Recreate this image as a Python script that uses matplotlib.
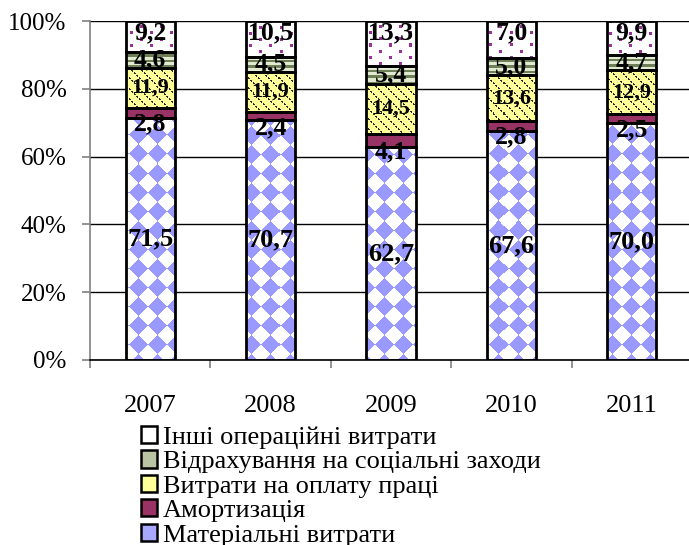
import numpy as np
import matplotlib
matplotlib.use("Agg")
import matplotlib.pyplot as plt
from matplotlib.patches import Patch

plt.rcParams['font.family'] = ['Liberation Serif', 'DejaVu Serif']

years = ['2007', '2008', '2009', '2010', '2011']
material = [71.5, 70.7, 62.7, 67.6, 70.0]
amort = [2.8, 2.4, 4.1, 2.8, 2.5]
wages = [11.9, 11.9, 14.5, 13.6, 12.9]
social = [4.6, 4.5, 5.4, 5.0, 4.7]
other = [9.2, 10.5, 13.3, 11.0, 9.9]
other_labels = ['9,2', '10,5', '13,3', '7,0', '9,9']

names = ['Матеріальні витрати', 'Амортизація', 'Витрати на оплату праці',
         'Відрахування на соціальні заходи', 'Інші операційні витрати']

W, H = 689, 545
fig = plt.figure(figsize=(W / 100, H / 100), dpi=100)
ax_l, ax_r, ax_t, ax_b = 90, 692, 21, 360
ax = fig.add_axes([ax_l / W, 1 - ax_b / H, (ax_r - ax_l) / W, (ax_b - ax_t) / H])
XL = (-0.5, 4.5)
ax.set_xlim(*XL)
ax.set_ylim(0, 100)

x = np.arange(len(years))
bw = 0.41

def fmt(v):
    return f"{v:.1f}".replace('.', ',')

def rgb(h):
    h = h.lstrip('#')
    return np.array([int(h[i:i + 2], 16) for i in (0, 2, 4)]) / 255.0

# texture images in axes pixel space
pw, ph = ax_r - ax_l, ax_b - ax_t
yy, xx = np.mgrid[0:ph, 0:pw].astype(float)

def texture(bg, fg, mask):
    img = np.ones((ph, pw, 3)) * rgb(bg)
    img[mask] = rgb(fg)
    return img

# diamonds (material)
a = 19.0
m_mat = ((np.floor((xx + yy) / a) + np.floor((xx - yy) / a)) % 2) == 0
tex_mat = texture('#FFFFFF', '#9999FF', m_mat)
# dotted diagonals (wages)
m_wg = (((xx - yy) % 10) < 1.6) & (((xx + yy) % 5) < 2.6)
tex_wg = texture('#FFFF99', '#2a2a2a', m_wg)
# stripes (social)
m_so = (yy % 5.5) < 2.3
tex_so = texture('#E2EAD2', '#6F7F57', m_so)
# dots (other)
px_, py_ = 20.0, 12.0
dx1 = ((xx % px_) - px_ / 2)
dy1 = ((yy % py_) - py_ / 2)
dx2 = (((xx + px_ / 2) % px_) - px_ / 2)
dy2 = (((yy + py_ / 2) % py_) - py_ / 2)
m_ot = (dx1 ** 2 + dy1 ** 2 < 2.2) | (dx2 ** 2 + dy2 ** 2 < 2.2)
tex_ot = texture('#FFFFFF', '#993399', m_ot)

def textured_bars(vals, bottom, tex):
    bars = ax.bar(x, vals, bw, bottom=bottom, color='white', edgecolor='none', zorder=1)
    for b in bars:
        im = ax.imshow(tex, extent=(XL[0], XL[1], 0, 100), origin='upper', aspect='auto',
                       interpolation='nearest', zorder=2)
        im.set_clip_path(b)

b0 = np.zeros(5)
b1 = b0 + np.array(material)
b2 = b1 + np.array(amort)
b3 = b2 + np.array(wages)
b4 = b3 + np.array(social)

textured_bars(material, b0, tex_mat)
ax.bar(x, amort, bw, bottom=b1, color='#993366', edgecolor='none', zorder=2)
textured_bars(wages, b2, tex_wg)
textured_bars(social, b3, tex_so)
textured_bars(other, b4, tex_ot)
ax.set_xlim(*XL)
ax.set_ylim(0, 100)

# outlines
for vals, bt in [(material, b0), (amort, b1), (wages, b2), (social, b3), (other, b4)]:
    ax.bar(x, vals, bw, bottom=bt, facecolor='none', edgecolor='black',
           linewidth=2, zorder=3)

# labels
for i in range(5):
    ax.text(x[i], material[i] / 2, fmt(material[i]), ha='center', va='center',
            fontsize=19, fontweight='bold', zorder=5)
    ax.annotate(fmt(amort[i]), (x[i], b1[i] + amort[i] / 2),
                xytext=(0, -8), textcoords='offset points', ha='center', va='center',
                fontsize=18.5, fontweight='bold', zorder=5)
    ax.text(x[i], b2[i] + wages[i] / 2, fmt(wages[i]), ha='center', va='center',
            fontsize=16, fontweight='bold', zorder=5)
    ax.text(x[i], b3[i] + social[i] / 2, fmt(social[i]), ha='center', va='center',
            fontsize=18.5, fontweight='bold', zorder=5)
    ax.text(x[i], 96.5, other_labels[i], ha='center', va='center',
            fontsize=18.5, fontweight='bold', zorder=5)

# axes styling
ax.set_yticks([0, 20, 40, 60, 80, 100])
ax.set_yticklabels(['0%', '20%', '40%', '60%', '80%', '100%'], fontsize=18)
ax.yaxis.grid(True, color='black', linewidth=1)
ax.set_axisbelow(True)
ax.set_xticks(x)
ax.set_xticklabels(years, fontsize=19)
ax.set_xticks(np.arange(-0.5, 5, 1), minor=True)
ax.tick_params(axis='x', which='major', length=0, pad=25)
ax.tick_params(axis='x', which='minor', length=6, width=1.2, color='#808080', direction='out')
ax.tick_params(axis='y', length=6, width=1.2, color='#808080', direction='out', pad=11)
for s in ['top', 'right']:
    ax.spines[s].set_visible(False)
ax.spines['left'].set_color('#808080')
ax.spines['left'].set_linewidth(1.2)
ax.spines['bottom'].set_color('black')
ax.spines['bottom'].set_linewidth(1.2)

# legend
handles = [
    Patch(facecolor='white', edgecolor='black', linewidth=1.8, label=names[4]),
    Patch(facecolor='#B8C4A2', edgecolor='black', linewidth=1.8, label=names[3]),
    Patch(facecolor='#FFFF99', edgecolor='black', linewidth=1.8, label=names[2]),
    Patch(facecolor='#993366', edgecolor='black', linewidth=1.8, label=names[1]),
    Patch(facecolor='#A8A8FF', edgecolor='black', linewidth=1.8, label=names[0]),
]
fig.legend(handles=handles, loc='upper left', bbox_to_anchor=(141 / W, 1 - 426 / H),
           frameon=False, fontsize=19, handlelength=0.62, handleheight=0.62,
           handletextpad=0.2, labelspacing=0.06, borderpad=0, borderaxespad=0)

fig.savefig('out.png', dpi=100)
